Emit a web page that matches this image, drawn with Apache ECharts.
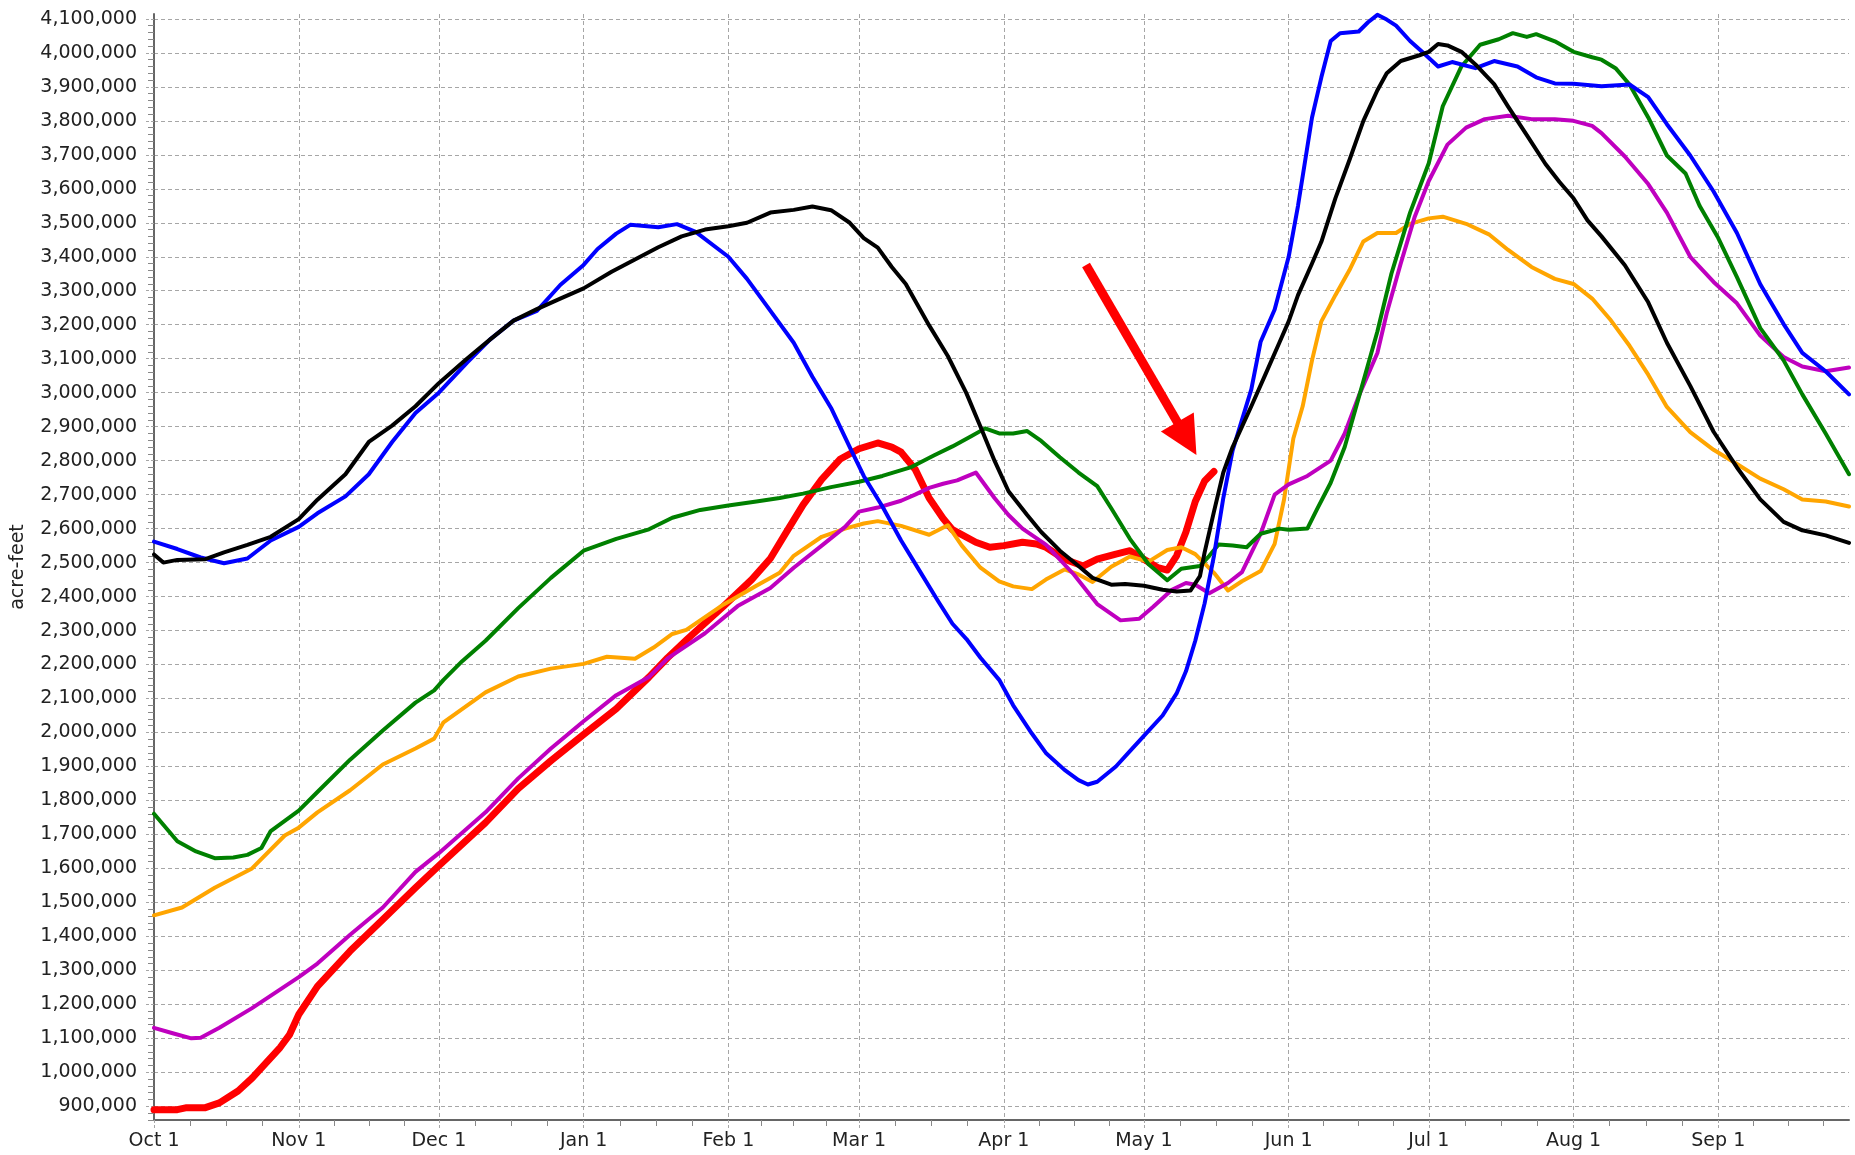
<!DOCTYPE html>
<html><head><meta charset="utf-8">
<script src="https://cdn.jsdelivr.net/npm/echarts@6/dist/echarts.min.js"></script>
<style>html,body{margin:0;padding:0;background:#fff}#c{width:1855px;height:1155px}</style>
</head><body><div id="c"></div>
<script>
// x = day of the water year (Oct 1 = 0), y = acre-feet
const monthLabels = ['Oct 1','Nov 1','Dec 1','Jan 1','Feb 1','Mar 1','Apr 1','May 1','Jun 1','Jul 1','Aug 1','Sep 1'];
const monthStarts = [0,31,61,92,123,151,182,212,243,273,304,335];
const yTickValues = [900000,1000000,1100000,1200000,1300000,1400000,1500000,1600000,1700000,1800000,1900000,2000000,2100000,2200000,2300000,2400000,2500000,2600000,2700000,2800000,2900000,3000000,3100000,3200000,3300000,3400000,3500000,3600000,3700000,3800000,3900000,4000000,4100000];

const blue = [[0,2562000],[5,2540000],[10,2515000],[15,2498000],[20,2512000],[25,2565000],[31,2605000],[35,2645000],[41,2695000],[46,2760000],[51,2855000],[56,2940000],[61,3000000],[67,3088000],[72,3157000],[77,3212000],[82,3241000],[87,3317000],[92,3376000],[95,3423000],[99,3468000],[102,3494000],[108,3487000],[112,3496000],[116,3473000],[123,3400000],[127,3335000],[131,3260000],[137,3147000],[141,3047000],[145,2955000],[149,2840000],[152,2755000],[156,2665000],[160,2565000],[164,2475000],[168,2385000],[171,2320000],[174,2275000],[177,2220000],[181,2155000],[184,2080000],[188,1997000],[191,1940000],[195,1890000],[198,1860000],[200,1847000],[202,1855000],[206,1900000],[209,1945000],[212,1990000],[216,2050000],[219,2115000],[221,2180000],[223,2270000],[225,2380000],[227,2520000],[229,2690000],[231,2830000],[233,2920000],[235,3010000],[237,3150000],[240,3245000],[243,3400000],[245,3550000],[248,3810000],[250,3928000],[252,4035000],[254,4058000],[258,4063000],[260,4090000],[262,4112000],[264,4098000],[266,4080000],[269,4035000],[272,3998000],[275,3960000],[278,3973000],[283,3955000],[287,3976000],[292,3960000],[296,3928000],[300,3910000],[304,3909000],[310,3902000],[316,3907000],[320,3870000],[324,3790000],[329,3698000],[334,3592000],[339,3470000],[344,3319000],[349,3202000],[353,3117000],[358,3063000],[363,2995000]];

const black = [[0,2524000],[2,2500000],[5,2508000],[11,2510000],[15,2530000],[20,2552000],[25,2576000],[31,2628000],[35,2685000],[41,2760000],[46,2855000],[51,2903000],[56,2960000],[61,3028000],[67,3100000],[72,3157000],[77,3212000],[82,3246000],[87,3277000],[92,3307000],[98,3356000],[103,3392000],[108,3428000],[113,3460000],[118,3480000],[123,3490000],[127,3500000],[132,3530000],[137,3538000],[141,3548000],[145,3537000],[149,3500000],[152,3455000],[155,3427000],[158,3370000],[161,3320000],[166,3198000],[170,3108000],[174,2998000],[177,2900000],[180,2800000],[183,2710000],[187,2640000],[190,2590000],[194,2535000],[198,2490000],[201,2455000],[205,2435000],[208,2437000],[212,2432000],[216,2420000],[219,2415000],[222,2418000],[224,2460000],[225,2530000],[227,2650000],[229,2765000],[231,2840000],[233,2900000],[235,2960000],[238,3053000],[241,3147000],[243,3210000],[245,3287000],[248,3380000],[250,3444000],[253,3572000],[256,3684000],[259,3800000],[262,3890000],[264,3940000],[267,3976000],[271,3993000],[273,4003000],[275,4026000],[277,4022000],[280,4003000],[283,3966000],[287,3908000],[290,3842000],[294,3758000],[298,3673000],[301,3620000],[304,3572000],[307,3507000],[310,3460000],[315,3375000],[320,3266000],[324,3147000],[329,3020000],[334,2885000],[339,2780000],[344,2686000],[349,2620000],[353,2595000],[358,2580000],[363,2558000]];

const green = [[0,1761000],[5,1680000],[9,1650000],[13,1630000],[17,1632000],[20,1640000],[23,1660000],[25,1710000],[28,1740000],[31,1770000],[35,1825000],[42,1920000],[49,2006000],[56,2088000],[60,2124000],[62,2155000],[66,2210000],[71,2270000],[78,2366000],[85,2455000],[92,2535000],[99,2570000],[106,2598000],[111,2632000],[117,2655000],[123,2668000],[129,2680000],[134,2690000],[139,2703000],[145,2722000],[151,2738000],[156,2755000],[162,2780000],[167,2815000],[171,2842000],[175,2872000],[178,2895000],[181,2880000],[184,2880000],[187,2887000],[190,2858000],[194,2810000],[198,2765000],[202,2725000],[205,2660000],[209,2570000],[213,2495000],[217,2448000],[220,2482000],[224,2490000],[226,2520000],[228,2553000],[231,2550000],[234,2545000],[237,2585000],[241,2600000],[243,2597000],[247,2600000],[249,2655000],[252,2735000],[255,2840000],[258,2985000],[262,3180000],[265,3350000],[269,3530000],[273,3675000],[276,3843000],[280,3960000],[284,4024000],[288,4040000],[291,4058000],[294,4047000],[296,4055000],[300,4034000],[304,4003000],[308,3987000],[310,3980000],[313,3955000],[316,3907000],[320,3810000],[324,3698000],[328,3645000],[331,3550000],[335,3455000],[339,3340000],[344,3190000],[349,3095000],[353,2995000],[358,2880000],[363,2760000]];

const orange = [[0,1462000],[6,1485000],[13,1543000],[21,1600000],[28,1697000],[31,1720000],[35,1765000],[42,1830000],[49,1906000],[56,1953000],[60,1982000],[62,2030000],[71,2118000],[78,2165000],[85,2188000],[92,2202000],[97,2223000],[103,2217000],[107,2250000],[111,2290000],[114,2302000],[122,2377000],[125,2400000],[129,2432000],[134,2470000],[137,2520000],[143,2576000],[148,2600000],[152,2615000],[155,2622000],[160,2608000],[166,2582000],[170,2610000],[173,2550000],[177,2485000],[181,2445000],[184,2430000],[188,2422000],[191,2450000],[195,2480000],[198,2465000],[201,2443000],[205,2488000],[209,2518000],[213,2503000],[217,2537000],[220,2545000],[223,2525000],[227,2470000],[230,2418000],[233,2445000],[237,2475000],[240,2555000],[242,2685000],[244,2865000],[246,2960000],[248,3095000],[250,3210000],[253,3287000],[256,3360000],[259,3445000],[262,3470000],[266,3470000],[269,3497000],[273,3513000],[276,3518000],[281,3497000],[286,3465000],[290,3420000],[295,3370000],[300,3335000],[304,3320000],[308,3277000],[312,3213000],[316,3138000],[320,3053000],[324,2958000],[329,2884000],[334,2832000],[339,2790000],[344,2747000],[349,2716000],[353,2686000],[358,2680000],[363,2665000]];

const magenta = [[0,1131000],[4,1115000],[8,1100000],[10,1102000],[14,1131000],[21,1189000],[31,1280000],[35,1320000],[42,1405000],[49,1485000],[56,1590000],[61,1645000],[71,1765000],[78,1865000],[85,1953000],[92,2033000],[99,2110000],[106,2163000],[110,2218000],[118,2292000],[125,2372000],[132,2425000],[137,2485000],[143,2550000],[148,2605000],[151,2650000],[155,2662000],[160,2682000],[163,2700000],[166,2720000],[169,2732000],[172,2742000],[176,2765000],[180,2690000],[183,2640000],[186,2600000],[191,2553000],[197,2465000],[202,2378000],[207,2330000],[211,2335000],[214,2370000],[218,2420000],[221,2440000],[223,2435000],[226,2410000],[230,2440000],[233,2472000],[237,2585000],[240,2700000],[243,2730000],[247,2755000],[252,2800000],[255,2880000],[258,2990000],[262,3117000],[264,3234000],[267,3380000],[270,3518000],[273,3623000],[277,3730000],[281,3780000],[285,3805000],[290,3815000],[295,3805000],[300,3805000],[304,3800000],[308,3785000],[310,3764000],[315,3695000],[320,3614000],[324,3530000],[329,3400000],[334,3326000],[339,3263000],[344,3168000],[349,3105000],[353,3077000],[358,3063000],[363,3074000]];

const red = [[0,890000],[5,890000],[7,896000],[11,896000],[14,910000],[18,945000],[21,983000],[27,1073000],[29,1110000],[31,1170000],[35,1253000],[42,1357000],[49,1450000],[56,1543000],[61,1608000],[71,1735000],[78,1835000],[85,1917000],[92,1994000],[99,2070000],[106,2163000],[110,2220000],[114,2272000],[122,2372000],[128,2450000],[132,2512000],[135,2580000],[139,2670000],[143,2745000],[147,2805000],[151,2835000],[155,2852000],[158,2840000],[160,2825000],[163,2775000],[166,2690000],[169,2630000],[171,2597000],[176,2560000],[179,2545000],[182,2550000],[186,2560000],[189,2555000],[191,2545000],[195,2510000],[199,2490000],[202,2510000],[206,2525000],[209,2535000],[212,2510000],[215,2485000],[217,2478000],[219,2520000],[221,2590000],[223,2680000],[225,2740000],[227,2768000]];

// annotation arrow (data space: [day, acre-feet])
const arrowFrom = [199.6, 3375800];
const arrowTo = [221.2, 2865200];

const font = 'DejaVu Sans';
const textColor = '#222';
const gridColor = '#a6a6a6';

const yMinor = [];
for (let v = 860000; v <= 4114000; v += 20000) { if (v % 100000 !== 0) yMinor.push(v); }
const xMinor = [];
for (let i = 0; i < monthStarts.length; i++) {
  const s = monthStarts[i];
  const e = i + 1 < monthStarts.length ? monthStarts[i + 1] : 365;
  for (let k = 1; k <= 3; k++) { const d = s + (e - s) * k / 4; if (d < 363) xMinor.push(d); }
}

const chart = echarts.init(document.getElementById('c'), null, { renderer: 'canvas' });

function lineSeries(name, data, color, width, z) {
  return {
    name, type: 'line', data, xAxisIndex: 0, yAxisIndex: 0,
    showSymbol: false, symbol: 'none', smooth: false, z,
    lineStyle: { color, width, join: 'round', cap: 'round' },
    emphasis: { disabled: true }, silent: true
  };
}

const redSeries = lineSeries('red', red, '#ff0000', 7, 2);
redSeries.markLine = {
  silent: true, animation: false,
  symbol: ['none', 'triangle'], symbolSize: 38,
  label: { show: false }, emphasis: { disabled: true },
  itemStyle: { color: '#ff0000' },
  lineStyle: { color: '#ff0000', width: 9, type: 'solid', cap: 'butt', opacity: 1 },
  data: [[{ coord: arrowFrom }, { coord: arrowTo }]]
};

const option = {
  animation: false,
  backgroundColor: '#ffffff',
  grid: { left: 154, right: 6, top: 14, bottom: 35, containLabel: false },
  xAxis: [
    {
      type: 'value', min: 0, max: 363, position: 'bottom',
      axisLine: { show: true, onZero: false, lineStyle: { color: '#666', width: 2 } },
      axisTick: { show: true, customValues: monthStarts, length: 10, lineStyle: { color: gridColor, type: [3, 2] } },
      axisLabel: { show: true, customValues: monthStarts, formatter: v => monthLabels[monthStarts.indexOf(v)] || '', fontFamily: font, fontSize: 19, color: textColor, margin: 12 },
      splitLine: { show: true, lineStyle: { color: gridColor, type: [4, 3], width: 1 } }
    },
    {
      type: 'value', min: 0, max: 363, position: 'bottom', gridIndex: 0,
      axisLine: { show: false }, axisLabel: { show: false }, splitLine: { show: false },
      axisTick: { show: true, customValues: xMinor, length: 6, lineStyle: { color: '#888' } }
    }
  ],
  yAxis: [
    {
      type: 'value', min: 859700, max: 4114400, position: 'left',
      name: 'acre-feet', nameLocation: 'middle', nameRotate: 90, nameGap: 126,
      nameTextStyle: { fontFamily: font, fontSize: 19, color: textColor },
      axisLine: { show: true, onZero: false, lineStyle: { color: '#666', width: 2 } },
      axisTick: { show: true, customValues: yTickValues, length: 9, lineStyle: { color: gridColor, type: [3, 2] } },
      axisLabel: { show: true, customValues: yTickValues, formatter: v => Number(v).toLocaleString('en-US'), fontFamily: font, fontSize: 19, color: textColor, margin: 17 },
      splitLine: { show: true, lineStyle: { color: gridColor, type: [4, 3], width: 1 } }
    },
    {
      type: 'value', min: 859700, max: 4114400, position: 'left', gridIndex: 0,
      axisLine: { show: false }, axisLabel: { show: false }, splitLine: { show: false },
      axisTick: { show: true, customValues: yMinor, length: 6, lineStyle: { color: '#888' } }
    }
  ],
  series: [
    redSeries,
    lineSeries('orange', orange, '#ffa500', 4, 3),
    lineSeries('magenta', magenta, '#bf00bf', 4, 4),
    lineSeries('green', green, '#008000', 4, 5),
    lineSeries('blue', blue, '#0000ff', 4, 6),
    lineSeries('black', black, '#000000', 4, 7)
  ]
};
chart.setOption(option);
</script>
</body></html>
